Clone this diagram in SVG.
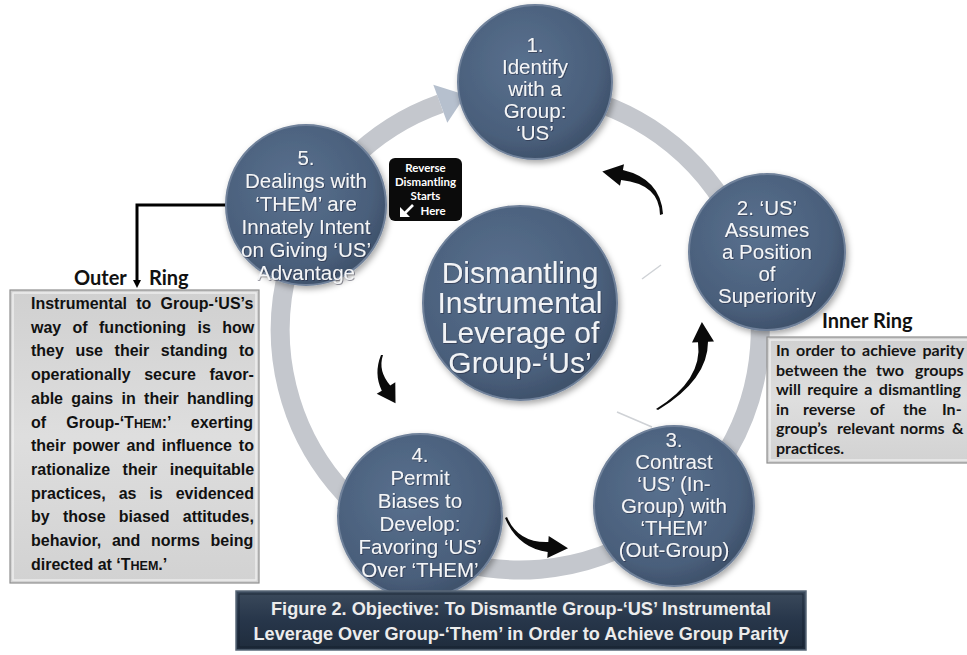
<svg xmlns="http://www.w3.org/2000/svg" width="967" height="655" viewBox="0 0 967 655">
<defs>
<style>
.ct{font-family:"Liberation Sans",Arial,sans-serif;font-size:20.5px;fill:#f4f5f7;text-anchor:middle;filter:url(#ts)}
.cc{font-family:"Liberation Sans",Arial,sans-serif;font-size:30px;fill:#f1f3f6;text-anchor:middle;filter:url(#ts)}
.bt{font-family:"Liberation Sans",Arial,sans-serif;font-size:16px;font-weight:bold;fill:#111}
.it{font-family:Lato,"Open Sans",sans-serif;font-size:16px;font-weight:bold;fill:#151515}
.lb{font-family:Lato,"Open Sans",sans-serif;font-size:20px;font-weight:bold;fill:#111}
.rv{font-family:Lato,"Open Sans",sans-serif;font-size:11.5px;font-weight:bold;fill:#fff;text-anchor:middle}
.tt{font-family:"Liberation Sans",Arial,sans-serif;font-size:19px;font-weight:bold;fill:#ececec;text-anchor:middle}
.node{fill:url(#cg);stroke:#6f819a;stroke-width:2;filter:url(#sh)}
.arr{fill:#0a0a0a}
</style>
<radialGradient id="cg" cx="0.42" cy="0.38" r="0.62">
<stop offset="0" stop-color="#58708e"/>
<stop offset="0.8" stop-color="#4a5f7b"/>
<stop offset="1" stop-color="#3f526c"/>
</radialGradient>
<linearGradient id="bg" x1="0" y1="0" x2="0" y2="1">
<stop offset="0" stop-color="#d0d0d0"/>
<stop offset="0.5" stop-color="#dedede"/>
<stop offset="1" stop-color="#d2d2d2"/>
</linearGradient>
<linearGradient id="tg" x1="0" y1="0" x2="0" y2="1">
<stop offset="0" stop-color="#3b4a5c"/>
<stop offset="0.5" stop-color="#27364a"/>
<stop offset="1" stop-color="#1f2c3c"/>
</linearGradient>
<filter id="sh" x="-20%" y="-20%" width="140%" height="140%">
<feDropShadow dx="2" dy="3" stdDeviation="3" flood-color="#000" flood-opacity="0.35"/>
</filter>
<filter id="ts" x="-10%" y="-30%" width="120%" height="160%">
<feDropShadow dx="0.8" dy="0.8" stdDeviation="0.7" flood-color="#1a2430" flood-opacity="0.6"/>
</filter>
<marker id="ah" markerWidth="8" markerHeight="8" refX="4" refY="4" orient="auto" markerUnits="userSpaceOnUse" viewBox="0 0 8 8">
<path d="M0,0 L8,4 L0,8 Z" fill="#000"/>
</marker>
</defs>
<rect width="967" height="655" fill="#fff"/>

<g id="connectors">
<path d="M561.7,93.6 A240,240 0 1 1 440.3,103.7" fill="none" stroke="#c4c7cd" stroke-width="19"/>
<path d="M433.3,84.7 L465.8,95.1 L447.3,122.7 Z" fill="#b6c0ce"/>
<line x1="642" y1="279" x2="661" y2="265" stroke="#cfd2d6" stroke-width="1.5"/>
<line x1="617" y1="412" x2="652" y2="427" stroke="#cfd2d6" stroke-width="1.5"/>
<path class="arr" d="M663,214 Q660.5,179 622.9,170.1 L624,164.2 L602.3,171.4 L620,185.8 L621.1,179.9 Q659.6,184 660,215 Z"/>
<path class="arr" d="M658,410 Q708,379.8 708,341.7 L714,341.4 L701.9,322 L692,342.6 L698,342.3 Q703,380.1 656,409 Z"/>
<path class="arr" d="M505,518 Q517.8,548 547.7,552 L547.3,558 L568,548.3 L548.7,536 L548.3,542 Q518.1,543 507,517 Z"/>
<path class="arr" d="M381,355 Q373.5,373.6 381.8,390.7 L376.7,393.8 L395.5,403.3 L395.3,382.2 L390.2,385.4 Q377.7,370.9 383,355 Z"/>
<path d="M230,205 L137,205 L137,284" fill="none" stroke="#000" stroke-width="3" marker-end="url(#ah)"/>
</g>

<g id="center">
<circle class="node" cx="520" cy="303" r="97"/>
<text class="cc" x="520" y="283">Dismantling</text>
<text class="cc" x="520" y="313">Instrumental</text>
<text class="cc" x="520" y="343">Leverage of</text>
<text class="cc" x="520" y="373">Group-‘Us’</text>
</g>

<g id="n1">
<circle class="node" cx="535" cy="82" r="77"/>
<text class="ct" x="535" y="52">1.</text>
<text class="ct" x="535" y="74">Identify</text>
<text class="ct" x="535" y="96">with a</text>
<text class="ct" x="535" y="118">Group:</text>
<text class="ct" x="535" y="140">‘US’</text>
</g>

<g id="n2">
<circle class="node" cx="767" cy="252" r="78"/>
<text class="ct" x="767" y="215">2. ‘US’</text>
<text class="ct" x="767" y="237">Assumes</text>
<text class="ct" x="767" y="259">a Position</text>
<text class="ct" x="767" y="281">of</text>
<text class="ct" x="767" y="303">Superiority</text>
</g>

<g id="n3">
<circle class="node" cx="674" cy="506" r="80"/>
<text class="ct" x="674" y="447">3.</text>
<text class="ct" x="674" y="469">Contrast</text>
<text class="ct" x="674" y="491">‘US’ (In-</text>
<text class="ct" x="674" y="513">Group) with</text>
<text class="ct" x="674" y="535">‘THEM’</text>
<text class="ct" x="674" y="557">(Out-Group)</text>
</g>

<g id="n4">
<circle class="node" cx="420" cy="516" r="82"/>
<text class="ct" x="420" y="462">4.</text>
<text class="ct" x="420" y="485">Permit</text>
<text class="ct" x="420" y="508">Biases to</text>
<text class="ct" x="420" y="531">Develop:</text>
<text class="ct" x="420" y="554">Favoring ‘US’</text>
<text class="ct" x="420" y="577">Over ‘THEM’</text>
</g>

<g id="n5">
<circle class="node" cx="306" cy="205" r="80"/>
<text class="ct" x="306" y="165">5.</text>
<text class="ct" x="306" y="188">Dealings with</text>
<text class="ct" x="306" y="211">‘THEM’ are</text>
<text class="ct" x="306" y="234">Innately Intent</text>
<text class="ct" x="306" y="257">on Giving ‘US’</text>
<text class="ct" x="306" y="280">Advantage</text>
</g>

<g id="reverse">
<rect x="389" y="158" width="73" height="63" rx="6" fill="#0b0b0b"/>
<text class="rv" x="425.5" y="172">Reverse</text>
<text class="rv" x="425.5" y="186">Dismantling</text>
<text class="rv" x="425.5" y="200">Starts</text>
<text class="rv" x="433" y="215">Here</text>
<path d="M413,205 L404,214" stroke="#fff" stroke-width="2.6" fill="none"/>
<path d="M400,207 L400,217 L410,217 Z" fill="#fff"/>
</g>

<g id="outer">
<text class="lb" x="74" y="285">Outer</text>
<text class="lb" x="149" y="285">Ring</text>
<rect x="10" y="290" width="249" height="293" fill="url(#bg)" stroke="#8f8f8f" stroke-width="1.2"/>
<rect x="13" y="293" width="243" height="287" fill="none" stroke="#f4f4f4" stroke-width="1.5" opacity="0.8"/>
<text class="bt" x="31" y="309" word-spacing="4.8">Instrumental to Group-‘US’s</text>
<text class="bt" x="31" y="332.7" word-spacing="6.9">way of functioning is how</text>
<text class="bt" x="31" y="356.4" word-spacing="7.1">they use their standing to</text>
<text class="bt" x="31" y="380.1" word-spacing="9.2">operationally secure favor-</text>
<text class="bt" x="31" y="403.8" word-spacing="3.9">able gains in their handling</text>
<text class="bt" x="31" y="427.5" word-spacing="15.8">of Group-‘T<tspan font-size="12.5">HEM</tspan>:’ exerting</text>
<text class="bt" x="31" y="451.2" word-spacing="2.4">their power and influence to</text>
<text class="bt" x="31" y="474.9" word-spacing="8">rationalize their inequitable</text>
<text class="bt" x="31" y="498.6" word-spacing="8.5">practices, as is evidenced</text>
<text class="bt" x="31" y="522.3" word-spacing="8.8">by those biased attitudes,</text>
<text class="bt" x="31" y="546" word-spacing="6.2">behavior, and norms being</text>
<text class="bt" x="31" y="569.7">directed at ‘T<tspan font-size="12.5">HEM</tspan>.’</text>
</g>

<g id="inner">
<text class="lb" x="822" y="328">Inner Ring</text>
<rect x="767" y="337" width="210" height="126" fill="url(#bg)" stroke="#8f8f8f" stroke-width="1.2"/>
<rect x="770" y="340" width="204" height="120" fill="none" stroke="#f4f4f4" stroke-width="1.5" opacity="0.8"/>
<text class="it" x="776" y="356" word-spacing="2.5">In order to achieve parity</text>
<text class="it" y="375.5"><tspan x="776">between</tspan><tspan x="843">the</tspan><tspan x="876">two</tspan><tspan x="915">groups</tspan></text>
<text class="it" x="776" y="395" word-spacing="2.5">will require a dismantling</text>
<text class="it" y="414.5"><tspan x="776">in</tspan><tspan x="803">reverse</tspan><tspan x="870">of</tspan><tspan x="903">the</tspan><tspan x="942">In-</tspan></text>
<text class="it" y="434"><tspan x="776">group’s</tspan><tspan x="837">relevant</tspan><tspan x="900">norms</tspan><tspan x="952">&amp;</tspan></text>
<text class="it" x="776" y="453.5">practices.</text>
</g>

<g id="title">
<rect x="236" y="591" width="570" height="59" fill="url(#tg)" stroke="#5a6878" stroke-width="1.5"/>
<rect x="239" y="594" width="564" height="53" fill="none" stroke="#0f1824" stroke-width="1" opacity="0.6"/>
<text class="tt" x="521" y="615" textLength="500" lengthAdjust="spacingAndGlyphs">Figure 2. Objective: To Dismantle Group-‘US’ Instrumental</text>
<text class="tt" x="521" y="640" textLength="535" lengthAdjust="spacingAndGlyphs">Leverage Over Group-‘Them’ in Order to Achieve Group Parity</text>
</g>
</svg>
